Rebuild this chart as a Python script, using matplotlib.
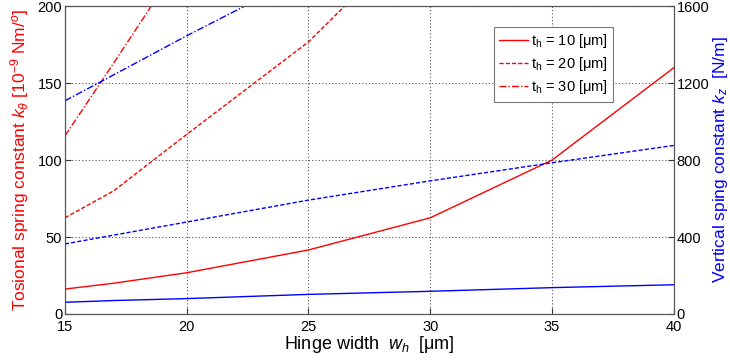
import matplotlib
matplotlib.use("Agg")
import matplotlib.pyplot as plt

# hinge width [um]
w_h = [15, 17, 20, 25, 30, 35, 40]

# torsional spring constant [1e-9 Nm/deg]
k_theta_10 = [16.2, 20, 26.8, 41.6, 62.5, 100, 160]
k_theta_20 = [62.5, 80, 116.7, 176.8, 255, 390, 560]
k_theta_30 = [115.8, 163, 235, 370, 540, 760, 1040]

# vertical spring constant [N/m]
k_z_10 = [61, 70, 80, 102, 118, 137, 152]
k_z_20 = [364, 410, 478, 592, 692, 786, 876]
k_z_30 = [1108, 1243, 1446, 1770, 2090, 2400, 2700]

legend = ["t$_\\mathregular{h}$ = 10 [μm]",
          "t$_\\mathregular{h}$ = 20 [μm]",
          "t$_\\mathregular{h}$ = 30 [μm]"]

styles = ["-", (0, (3, 1.5)), (0, (5, 1.5, 1, 1.5))]

plt.rcParams["font.family"] = ["Liberation Sans", "DejaVu Sans"]
plt.rcParams["mathtext.fontset"] = "custom"
plt.rcParams["mathtext.it"] = "Liberation Sans:italic"
plt.rcParams["mathtext.rm"] = "Liberation Sans"

fig = plt.figure(figsize=(7.3, 3.62), dpi=100)
ax = fig.add_axes([0.089, 0.1326, 0.834, 0.8504])
ax2 = ax.twinx()

lines = []
for k, ls in zip([k_theta_10, k_theta_20, k_theta_30], styles):
    l, = ax.plot(w_h, k, color="red", linestyle=ls, linewidth=1)
    lines.append(l)
for k, ls in zip([k_z_10, k_z_20, k_z_30], styles):
    ax2.plot(w_h, k, color="blue", linestyle=ls, linewidth=1)

ax.set_xlim(15, 40)
ax.set_ylim(0, 200)
ax2.set_ylim(0, 1600)
ax.set_xticks([15, 20, 25, 30, 35, 40])
ax.set_yticks([0, 50, 100, 150, 200])
ax2.set_yticks([0, 400, 800, 1200, 1600])

ax.grid(True, color="#555555", linestyle=(0, (1, 2)), linewidth=0.8)
for a in (ax, ax2):
    a.tick_params(direction="in", labelsize=10.5, length=4, colors="#333333",
                  labelcolor="black", pad=2)
    for s in a.spines.values():
        s.set_color("#555555")
ax.tick_params(axis="x", pad=4)

ax.set_xlabel("Hinge width  $w_h$  [μm]", fontsize=13, labelpad=0)
ax.set_ylabel("Tosional spring constant $k_\\theta$ [10$^{-9}$ Nm/$^o$]",
              fontsize=12.5, color="red", labelpad=5)
ax2.set_ylabel("Vertical sping constant $k_z$  [N/m]", fontsize=12.5,
               color="blue", labelpad=1)

leg = ax2.legend(lines, legend, loc="upper right", bbox_to_anchor=(0.9, 0.932),
                 fontsize=10.5, fancybox=False, edgecolor="#777777",
                 handlelength=2.0, handletextpad=0.2, borderpad=0.35,
                 labelspacing=0.35, framealpha=1, borderaxespad=0)
leg.get_frame().set_linewidth(0.8)

plt.savefig("out.png", dpi=100)
